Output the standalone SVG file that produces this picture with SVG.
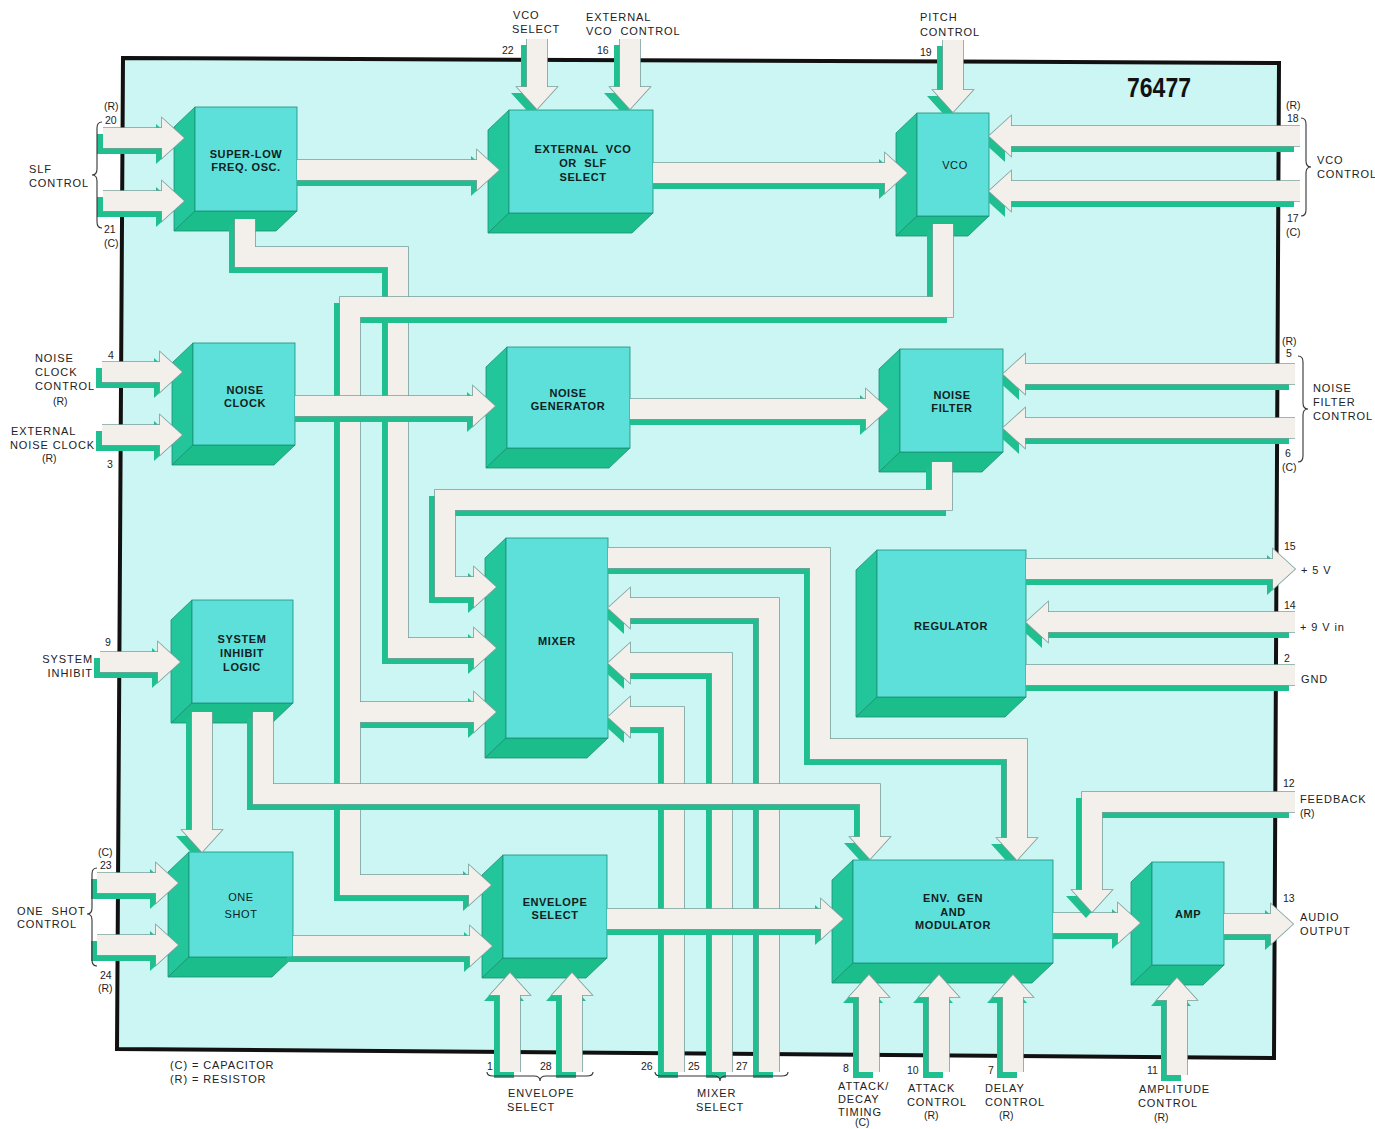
<svg xmlns="http://www.w3.org/2000/svg" width="1375" height="1129" viewBox="0 0 1375 1129">
<style>
.fr{fill:#5de0d9;stroke:#1b8f74;stroke-width:.8}
.sd{fill:#22c69a;stroke:#1b8f74;stroke-width:.8}
.bt{fill:#1bbd8b;stroke:#1b8f74;stroke-width:.8}
.nt{font-family:"Liberation Sans",Arial,sans-serif;font-size:11px;font-weight:bold;letter-spacing:.6px;text-anchor:middle;fill:#10201e}
.nr{font-weight:normal}
.lb{font-family:"Liberation Sans",Arial,sans-serif;font-size:11px;letter-spacing:.9px;fill:#222}
.pn{letter-spacing:0;font-size:10.5px}
.e{text-anchor:end}
.br{fill:none;stroke:#333;stroke-width:1.1}
.sh{fill:#1fbf8f;stroke:#1fbf8f;stroke-width:20px;--hw:0px}
.ol{fill:#7c9f9a;stroke:#7c9f9a;stroke-width:21.6px;--hw:1.6px}
.lt{fill:#f3efeb;stroke:#f3efeb;stroke-width:20px;--hw:0px}
.cg polygon{stroke-width:var(--hw)}
</style>
<defs>
<mask id="fm" maskUnits="userSpaceOnUse" x="0" y="0" width="1375" height="1129">
<rect width="1375" height="1129" fill="#fff"/>
<rect x="195" y="107" width="102" height="104"/><rect x="509" y="110" width="144" height="103"/><rect x="917" y="113" width="72" height="103"/>
<rect x="193" y="343" width="102" height="102"/><rect x="507" y="347" width="123" height="101"/><rect x="900" y="349" width="103" height="103"/>
<rect x="506" y="538" width="102" height="200"/><rect x="877" y="550" width="149" height="147"/><rect x="192" y="600" width="101" height="103"/>
<rect x="189" y="852" width="104" height="105"/><rect x="503" y="855" width="104" height="103"/><rect x="853" y="860" width="200" height="103"/><rect x="1152" y="862" width="72" height="103"/>
</mask>
<g id="p20" class="cg"><path fill="none" d="M103,138H164"/><polygon points="162,118 184,138 162,158"/></g>
<g id="p21" class="cg"><path fill="none" d="M103,201H164"/><polygon points="162,181 184,201 162,221"/></g>
<g id="p4" class="cg"><path fill="none" d="M102,372H162"/><polygon points="160,352 182,372 160,392"/></g>
<g id="p3" class="cg"><path fill="none" d="M102,435H162"/><polygon points="160,415 182,435 160,455"/></g>
<g id="p9" class="cg"><path fill="none" d="M100,662H160"/><polygon points="158,642 180,662 158,682"/></g>
<g id="p23" class="cg"><path fill="none" d="M97,883H158"/><polygon points="156,863 178,883 156,903"/></g>
<g id="p24" class="cg"><path fill="none" d="M97,945H158"/><polygon points="156,925 178,945 156,965"/></g>
<g id="p22" class="cg"><path fill="none" d="M537,39V89"/><polygon points="517,87 537,109 557,87"/></g>
<g id="p16" class="cg"><path fill="none" d="M630,39V89"/><polygon points="610,87 630,109 650,87"/></g>
<g id="p19" class="cg"><path fill="none" d="M953,40V92"/><polygon points="933,90 953,112 973,90"/></g>
<g id="p18" class="cg"><path fill="none" d="M1300,136H1009"/><polygon points="1011,116 989,136 1011,156"/></g>
<g id="p17" class="cg"><path fill="none" d="M1300,191H1009"/><polygon points="1011,171 989,191 1011,211"/></g>
<g id="p5" class="cg"><path fill="none" d="M1295,374H1023"/><polygon points="1025,354 1003,374 1025,394"/></g>
<g id="p6" class="cg"><path fill="none" d="M1295,428H1023"/><polygon points="1025,408 1003,428 1025,448"/></g>
<g id="p15" class="cg"><path fill="none" d="M1026,569H1275"/><polygon points="1273,549 1295,569 1273,589"/></g>
<g id="p14" class="cg"><path fill="none" d="M1295,622H1046"/><polygon points="1048,602 1026,622 1048,642"/></g>
<g id="p2" class="cg"><path fill="none" d="M1026,675H1295"/></g>
<g id="p12" class="cg"><path fill="none" d="M1295,802H1092V892"/><polygon points="1072,890 1092,912 1112,890"/></g>
<g id="p13" class="cg"><path fill="none" d="M1224,924H1273"/><polygon points="1271,904 1293,924 1271,944"/></g>
<g id="ea" class="cg"><path fill="none" d="M1053,923H1120"/><polygon points="1118,903 1140,923 1118,943"/></g>
<g id="p1" class="cg"><path fill="none" d="M510,1072V993"/><polygon points="490,995 510,973 530,995"/></g>
<g id="p28" class="cg"><path fill="none" d="M572,1072V993"/><polygon points="552,995 572,973 592,995"/></g>
<g id="p8" class="cg"><path fill="none" d="M869,1072V995"/><polygon points="849,997 869,975 889,997"/></g>
<g id="p10" class="cg"><path fill="none" d="M939,1072V995"/><polygon points="919,997 939,975 959,997"/></g>
<g id="p7" class="cg"><path fill="none" d="M1013,1072V995"/><polygon points="993,997 1013,975 1033,997"/></g>
<g id="p11" class="cg"><path fill="none" d="M1177,1075V998"/><polygon points="1157,1000 1177,978 1197,1000"/></g>
<g id="p26" class="cg"><path fill="none" d="M674,1072V717H628"/><polygon points="630,697 608,717 630,737"/></g>
<g id="p25" class="cg"><path fill="none" d="M722,1072V663H628"/><polygon points="630,643 608,663 630,683"/></g>
<g id="p27" class="cg"><path fill="none" d="M769,1072V608H628"/><polygon points="630,588 608,608 630,628"/></g>
<g id="se" class="cg"><path fill="none" d="M297,170H479"/><polygon points="477,150 499,170 477,190"/></g>
<g id="ev" class="cg"><path fill="none" d="M653,173H887"/><polygon points="885,153 907,173 885,193"/></g>
<g id="nn" class="cg"><path fill="none" d="M295,406H475"/><polygon points="473,386 495,406 473,426"/></g>
<g id="nf" class="cg"><path fill="none" d="M630,409H868"/><polygon points="866,389 888,409 866,429"/></g>
<g id="oe" class="cg"><path fill="none" d="M293,946H472"/><polygon points="470,926 492,946 470,966"/></g>
<g id="ee" class="cg"><path fill="none" d="M607,919H823"/><polygon points="821,899 843,919 821,939"/></g>
<g id="sm" class="cg"><path fill="none" d="M245,219V257H398V648H476"/><polygon points="474,628 496,648 474,668"/></g>
<g id="vb" class="cg"><path fill="none" d="M943,224V307H350V885H471M350,712H476"/><polygon points="469,865 491,885 469,905"/><polygon points="474,692 496,712 474,732"/></g>
<g id="fx" class="cg"><path fill="none" d="M942,462V500H445V587H476"/><polygon points="474,567 496,587 474,607"/></g>
<g id="so" class="cg"><path fill="none" d="M202,712V832"/><polygon points="182,830 202,852 222,830"/></g>
<g id="sg" class="cg"><path fill="none" d="M263,712V794H870V839"/><polygon points="850,837 870,859 890,837"/></g>
<g id="mg" class="cg"><path fill="none" d="M608,558H820V749H1017V840"/><polygon points="997,838 1017,860 1037,838"/></g>
</defs>

<polygon id="chip" points="123,58 1279,63 1274,1058 117,1049" fill="#cbf6f3" stroke="#111" stroke-width="4"/>

<g id="slf"><polygon class="sd" points="195,107 174,127 174,231 195,211"/><polygon class="bt" points="195,211 297,211 276,231 174,231"/><rect class="fr" x="195" y="107" width="102" height="104"/><text class="nt" x="246" y="158">SUPER-LOW</text><text class="nt" x="246" y="171">FREQ. OSC.</text></g>
<g id="extvco"><polygon class="sd" points="509,110 488,130 488,233 509,213"/><polygon class="bt" points="509,213 653,213 632,233 488,233"/><rect class="fr" x="509" y="110" width="144" height="103"/><text class="nt" x="583" y="153" xml:space="preserve">EXTERNAL  VCO</text><text class="nt" x="583" y="167" xml:space="preserve">OR  SLF</text><text class="nt" x="583" y="181">SELECT</text></g>
<g id="vco"><polygon class="sd" points="917,113 896,133 896,236 917,216"/><polygon class="bt" points="917,216 989,216 968,236 896,236"/><rect class="fr" x="917" y="113" width="72" height="103"/><text class="nt nr" x="955" y="169">VCO</text></g>
<g id="noiseclock"><polygon class="sd" points="193,343 172,363 172,465 193,445"/><polygon class="bt" points="193,445 295,445 274,465 172,465"/><rect class="fr" x="193" y="343" width="102" height="102"/><text class="nt" x="245" y="394">NOISE</text><text class="nt" x="245" y="407">CLOCK</text></g>
<g id="noisegen"><polygon class="sd" points="507,347 486,367 486,468 507,448"/><polygon class="bt" points="507,448 630,448 609,468 486,468"/><rect class="fr" x="507" y="347" width="123" height="101"/><text class="nt" x="568" y="397">NOISE</text><text class="nt" x="568" y="410">GENERATOR</text></g>
<g id="noisefilter"><polygon class="sd" points="900,349 879,369 879,472 900,452"/><polygon class="bt" points="900,452 1003,452 982,472 879,472"/><rect class="fr" x="900" y="349" width="103" height="103"/><text class="nt" x="952" y="399">NOISE</text><text class="nt" x="952" y="412">FILTER</text></g>
<g id="mixer"><polygon class="sd" points="506,538 485,558 485,758 506,738"/><polygon class="bt" points="506,738 608,738 587,758 485,758"/><rect class="fr" x="506" y="538" width="102" height="200"/><text class="nt" x="557" y="645">MIXER</text></g>
<g id="regulator"><polygon class="sd" points="877,550 856,570 856,717 877,697"/><polygon class="bt" points="877,697 1026,697 1005,717 856,717"/><rect class="fr" x="877" y="550" width="149" height="147"/><text class="nt" x="951" y="630">REGULATOR</text></g>
<g id="sysinhibit"><polygon class="sd" points="192,600 171,620 171,723 192,703"/><polygon class="bt" points="192,703 293,703 272,723 171,723"/><rect class="fr" x="192" y="600" width="101" height="103"/><text class="nt" x="242" y="643">SYSTEM</text><text class="nt" x="242" y="657">INHIBIT</text><text class="nt" x="242" y="671">LOGIC</text></g>
<g id="oneshot"><polygon class="sd" points="189,852 168,872 168,977 189,957"/><polygon class="bt" points="189,957 293,957 272,977 168,977"/><rect class="fr" x="189" y="852" width="104" height="105"/><text class="nt nr" x="241" y="901">ONE</text><text class="nt nr" x="241" y="918">SHOT</text></g>
<g id="envselect"><polygon class="sd" points="503,855 482,875 482,978 503,958"/><polygon class="bt" points="503,958 607,958 586,978 482,978"/><rect class="fr" x="503" y="855" width="104" height="103"/><text class="nt" x="555" y="906">ENVELOPE</text><text class="nt" x="555" y="919">SELECT</text></g>
<g id="envgen"><polygon class="sd" points="853,860 832,880 832,983 853,963"/><polygon class="bt" points="853,963 1053,963 1032,983 832,983"/><rect class="fr" x="853" y="860" width="200" height="103"/><text class="nt" x="953" y="902" xml:space="preserve">ENV.  GEN</text><text class="nt" x="953" y="916">AND</text><text class="nt" x="953" y="929">MODULATOR</text></g>
<g id="amp"><polygon class="sd" points="1152,862 1131,882 1131,985 1152,965"/><polygon class="bt" points="1152,965 1224,965 1203,985 1131,985"/><rect class="fr" x="1152" y="862" width="72" height="103"/><text class="nt" x="1188" y="918">AMP</text></g>

<g id="connectors">
<g id="k26"><g mask="url(#fm)"><use href="#p26" class="sh" transform="translate(-6,6)"/></g><use href="#p26" class="ol"/><use href="#p26" class="lt"/></g>
<g id="k25"><g mask="url(#fm)"><use href="#p25" class="sh" transform="translate(-6,6)"/></g><use href="#p25" class="ol"/><use href="#p25" class="lt"/></g>
<g id="k27"><g mask="url(#fm)"><use href="#p27" class="sh" transform="translate(-6,6)"/></g><use href="#p27" class="ol"/><use href="#p27" class="lt"/></g>
<g id="ksm"><g mask="url(#fm)"><use href="#sm" class="sh" transform="translate(-6,6)"/></g><use href="#sm" class="ol"/><use href="#sm" class="lt"/></g>
<g id="kvb"><g mask="url(#fm)"><use href="#vb" class="sh" transform="translate(-6,6)"/></g><use href="#vb" class="ol"/><use href="#vb" class="lt"/></g>
<g id="kfx"><g mask="url(#fm)"><use href="#fx" class="sh" transform="translate(-6,6)"/></g><use href="#fx" class="ol"/><use href="#fx" class="lt"/></g>
<g id="knn"><g mask="url(#fm)"><use href="#nn" class="sh" transform="translate(-6,6)"/></g><use href="#nn" class="ol"/><use href="#nn" class="lt"/></g>
<g id="kso"><g mask="url(#fm)"><use href="#so" class="sh" transform="translate(-6,6)"/></g><use href="#so" class="ol"/><use href="#so" class="lt"/></g>
<g id="ksg"><g mask="url(#fm)"><use href="#sg" class="sh" transform="translate(-6,6)"/></g><use href="#sg" class="ol"/><use href="#sg" class="lt"/></g>
<g id="kee"><g mask="url(#fm)"><use href="#ee" class="sh" transform="translate(-6,6)"/></g><use href="#ee" class="ol"/><use href="#ee" class="lt"/></g>
<g id="kmg"><g mask="url(#fm)"><use href="#mg" class="sh" transform="translate(-6,6)"/></g><use href="#mg" class="ol"/><use href="#mg" class="lt"/></g>
<g id="kse"><g mask="url(#fm)"><use href="#se" class="sh" transform="translate(-6,6)"/></g><use href="#se" class="ol"/><use href="#se" class="lt"/></g>
<g id="kev"><g mask="url(#fm)"><use href="#ev" class="sh" transform="translate(-6,6)"/></g><use href="#ev" class="ol"/><use href="#ev" class="lt"/></g>
<g id="knf"><g mask="url(#fm)"><use href="#nf" class="sh" transform="translate(-6,6)"/></g><use href="#nf" class="ol"/><use href="#nf" class="lt"/></g>
<g id="koe"><g mask="url(#fm)"><use href="#oe" class="sh" transform="translate(-6,6)"/></g><use href="#oe" class="ol"/><use href="#oe" class="lt"/></g>
<g id="kea"><g mask="url(#fm)"><use href="#ea" class="sh" transform="translate(-6,6)"/></g><use href="#ea" class="ol"/><use href="#ea" class="lt"/></g>
<g id="k20"><g mask="url(#fm)"><use href="#p20" class="sh" transform="translate(-6,6)"/></g><use href="#p20" class="ol"/><use href="#p20" class="lt"/></g>
<g id="k21"><g mask="url(#fm)"><use href="#p21" class="sh" transform="translate(-6,6)"/></g><use href="#p21" class="ol"/><use href="#p21" class="lt"/></g>
<g id="k4"><g mask="url(#fm)"><use href="#p4" class="sh" transform="translate(-6,6)"/></g><use href="#p4" class="ol"/><use href="#p4" class="lt"/></g>
<g id="k3"><g mask="url(#fm)"><use href="#p3" class="sh" transform="translate(-6,6)"/></g><use href="#p3" class="ol"/><use href="#p3" class="lt"/></g>
<g id="k9"><g mask="url(#fm)"><use href="#p9" class="sh" transform="translate(-6,6)"/></g><use href="#p9" class="ol"/><use href="#p9" class="lt"/></g>
<g id="k23"><g mask="url(#fm)"><use href="#p23" class="sh" transform="translate(-6,6)"/></g><use href="#p23" class="ol"/><use href="#p23" class="lt"/></g>
<g id="k24"><g mask="url(#fm)"><use href="#p24" class="sh" transform="translate(-6,6)"/></g><use href="#p24" class="ol"/><use href="#p24" class="lt"/></g>
<g id="k22"><g mask="url(#fm)"><use href="#p22" class="sh" transform="translate(-6,6)"/></g><use href="#p22" class="ol"/><use href="#p22" class="lt"/></g>
<g id="k16"><g mask="url(#fm)"><use href="#p16" class="sh" transform="translate(-6,6)"/></g><use href="#p16" class="ol"/><use href="#p16" class="lt"/></g>
<g id="k19"><g mask="url(#fm)"><use href="#p19" class="sh" transform="translate(-6,6)"/></g><use href="#p19" class="ol"/><use href="#p19" class="lt"/></g>
<g id="k18"><g mask="url(#fm)"><use href="#p18" class="sh" transform="translate(-6,6)"/></g><use href="#p18" class="ol"/><use href="#p18" class="lt"/></g>
<g id="k17"><g mask="url(#fm)"><use href="#p17" class="sh" transform="translate(-6,6)"/></g><use href="#p17" class="ol"/><use href="#p17" class="lt"/></g>
<g id="k5"><g mask="url(#fm)"><use href="#p5" class="sh" transform="translate(-6,6)"/></g><use href="#p5" class="ol"/><use href="#p5" class="lt"/></g>
<g id="k6"><g mask="url(#fm)"><use href="#p6" class="sh" transform="translate(-6,6)"/></g><use href="#p6" class="ol"/><use href="#p6" class="lt"/></g>
<g id="k15"><g mask="url(#fm)"><use href="#p15" class="sh" transform="translate(-6,6)"/></g><use href="#p15" class="ol"/><use href="#p15" class="lt"/></g>
<g id="k14"><g mask="url(#fm)"><use href="#p14" class="sh" transform="translate(-6,6)"/></g><use href="#p14" class="ol"/><use href="#p14" class="lt"/></g>
<g id="k2"><g mask="url(#fm)"><use href="#p2" class="sh" transform="translate(-6,6)"/></g><use href="#p2" class="ol"/><use href="#p2" class="lt"/></g>
<g id="k12"><g mask="url(#fm)"><use href="#p12" class="sh" transform="translate(-6,6)"/></g><use href="#p12" class="ol"/><use href="#p12" class="lt"/></g>
<g id="k13"><g mask="url(#fm)"><use href="#p13" class="sh" transform="translate(-6,6)"/></g><use href="#p13" class="ol"/><use href="#p13" class="lt"/></g>
<g id="k1"><g mask="url(#fm)"><use href="#p1" class="sh" transform="translate(-6,6)"/></g><use href="#p1" class="ol"/><use href="#p1" class="lt"/></g>
<g id="k28"><g mask="url(#fm)"><use href="#p28" class="sh" transform="translate(-6,6)"/></g><use href="#p28" class="ol"/><use href="#p28" class="lt"/></g>
<g id="k8"><g mask="url(#fm)"><use href="#p8" class="sh" transform="translate(-6,6)"/></g><use href="#p8" class="ol"/><use href="#p8" class="lt"/></g>
<g id="k10"><g mask="url(#fm)"><use href="#p10" class="sh" transform="translate(-6,6)"/></g><use href="#p10" class="ol"/><use href="#p10" class="lt"/></g>
<g id="k7"><g mask="url(#fm)"><use href="#p7" class="sh" transform="translate(-6,6)"/></g><use href="#p7" class="ol"/><use href="#p7" class="lt"/></g>
<g id="k11"><g mask="url(#fm)"><use href="#p11" class="sh" transform="translate(-6,6)"/></g><use href="#p11" class="ol"/><use href="#p11" class="lt"/></g>
</g>

<g id="braces">
<path class="br" d="M102,122Q97,122 97,128V169Q97,175 92,175Q97,175 97,181V222Q97,228 102,228"/>
<path class="br" d="M97,868Q92,868 92,874V908Q92,914 87,914Q92,914 92,920V960Q92,966 97,966"/>
<path class="br" d="M1301,118Q1306,118 1306,124V161Q1306,167 1311,167Q1306,167 1306,173V210Q1306,216 1301,216"/>
<path class="br" d="M1298,356Q1303,356 1303,362V403Q1303,409 1308,409Q1303,409 1303,415V456Q1303,462 1298,462"/>
<path class="br" d="M487,1072Q487,1076 493,1076H534Q540,1076 540,1081Q540,1076 546,1076H587Q593,1076 593,1072"/>
<path class="br" d="M655,1072Q655,1076 661,1076H714Q720,1076 720,1081Q720,1076 726,1076H782Q788,1076 788,1072"/>
</g>

<g id="labels">
<text x="1127" y="97" font-family="Liberation Sans,Arial,sans-serif" font-weight="bold" font-size="27" textLength="64" lengthAdjust="spacingAndGlyphs" fill="#111">76477</text>
<text class="lb" x="513" y="19">VCO</text><text class="lb" x="512" y="33">SELECT</text>
<text class="lb" x="586" y="21">EXTERNAL</text><text class="lb" x="586" y="35" xml:space="preserve">VCO  CONTROL</text>
<text class="lb pn" x="502" y="54">22</text><text class="lb pn" x="597" y="54">16</text>
<text class="lb" x="920" y="21">PITCH</text><text class="lb" x="920" y="36">CONTROL</text><text class="lb pn" x="920" y="56">19</text>
<text class="lb pn" x="104" y="110">(R)</text><text class="lb pn" x="105" y="124">20</text>
<text class="lb" x="29" y="173">SLF</text><text class="lb" x="29" y="187">CONTROL</text>
<text class="lb pn" x="104" y="233">21</text><text class="lb pn" x="104" y="247">(C)</text>
<text class="lb pn" x="108" y="359">4</text>
<text class="lb" x="35" y="362">NOISE</text><text class="lb" x="35" y="376">CLOCK</text><text class="lb" x="35" y="390">CONTROL</text><text class="lb pn" x="53" y="405">(R)</text>
<text class="lb" x="11" y="435">EXTERNAL</text><text class="lb" x="10" y="449" letter-spacing="0.6">NOISE CLOCK</text><text class="lb pn" x="42" y="462">(R)</text>
<text class="lb pn" x="107" y="468">3</text>
<text class="lb pn" x="105" y="646">9</text>
<text class="lb e" x="93" y="663">SYSTEM</text><text class="lb e" x="93" y="677">INHIBIT</text>
<text class="lb pn" x="98" y="856">(C)</text><text class="lb pn" x="100" y="869">23</text>
<text class="lb" x="17" y="915" xml:space="preserve">ONE  SHOT</text><text class="lb" x="17" y="928">CONTROL</text>
<text class="lb pn" x="100" y="979">24</text><text class="lb pn" x="98" y="992">(R)</text>
<text class="lb" x="170" y="1069">(C) = CAPACITOR</text><text class="lb" x="170" y="1083">(R) = RESISTOR</text>
<text class="lb pn" x="487" y="1070">1</text><text class="lb pn" x="540" y="1070">28</text>
<text class="lb" x="508" y="1097">ENVELOPE</text><text class="lb" x="507" y="1111">SELECT</text>
<text class="lb pn" x="641" y="1070">26</text><text class="lb pn" x="688" y="1070">25</text><text class="lb pn" x="736" y="1070">27</text>
<text class="lb" x="697" y="1097">MIXER</text><text class="lb" x="696" y="1111">SELECT</text>
<text class="lb pn" x="843" y="1072">8</text>
<text class="lb" x="838" y="1090">ATTACK/</text><text class="lb" x="838" y="1103">DECAY</text><text class="lb" x="838" y="1116">TIMING</text><text class="lb pn" x="855" y="1126" font-size="10">(C)</text>
<text class="lb pn" x="907" y="1074">10</text>
<text class="lb" x="908" y="1092">ATTACK</text><text class="lb" x="907" y="1106">CONTROL</text><text class="lb pn" x="924" y="1119">(R)</text>
<text class="lb pn" x="988" y="1074">7</text>
<text class="lb" x="985" y="1092">DELAY</text><text class="lb" x="985" y="1106">CONTROL</text><text class="lb pn" x="999" y="1119">(R)</text>
<text class="lb pn" x="1147" y="1074">11</text>
<text class="lb" x="1139" y="1093">AMPLITUDE</text><text class="lb" x="1138" y="1107">CONTROL</text><text class="lb pn" x="1154" y="1121">(R)</text>
<text class="lb pn" x="1286" y="109">(R)</text><text class="lb pn" x="1287" y="122">18</text>
<text class="lb" x="1317" y="164">VCO</text><text class="lb" x="1317" y="178">CONTROL</text>
<text class="lb pn" x="1287" y="222">17</text><text class="lb pn" x="1286" y="236">(C)</text>
<text class="lb pn" x="1282" y="345">(R)</text><text class="lb pn" x="1286" y="357">5</text>
<text class="lb" x="1313" y="392">NOISE</text><text class="lb" x="1313" y="406">FILTER</text><text class="lb" x="1313" y="420">CONTROL</text>
<text class="lb pn" x="1285" y="457">6</text><text class="lb pn" x="1282" y="471">(C)</text>
<text class="lb pn" x="1284" y="550">15</text><text class="lb" x="1301" y="574">+ 5 V</text>
<text class="lb pn" x="1284" y="609">14</text><text class="lb" x="1300" y="631">+ 9 V in</text>
<text class="lb pn" x="1284" y="662">2</text><text class="lb" x="1301" y="683">GND</text>
<text class="lb pn" x="1283" y="787">12</text><text class="lb" x="1300" y="803">FEEDBACK</text><text class="lb pn" x="1300" y="817">(R)</text>
<text class="lb pn" x="1283" y="902">13</text><text class="lb" x="1300" y="921">AUDIO</text><text class="lb" x="1300" y="935">OUTPUT</text>
</g>
</svg>
